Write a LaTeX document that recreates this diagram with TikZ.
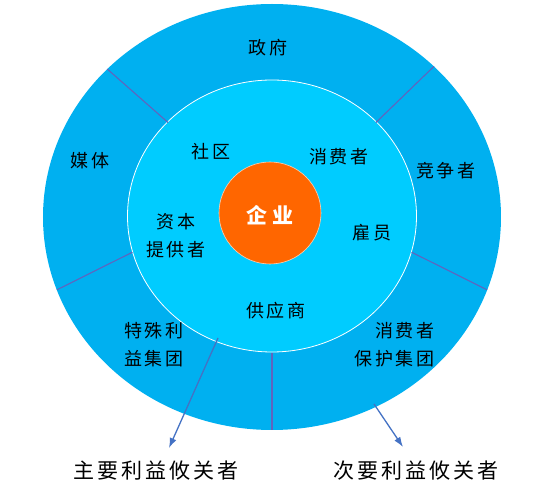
\documentclass[tikz,border=0pt]{standalone}
\usepackage{fontspec}
\setmainfont{Noto Sans CJK SC}
\usetikzlibrary{calc,arrows.meta}

\definecolor{ringblue}{RGB}{0,176,240}
\definecolor{coreblue}{RGB}{0,204,255}
\definecolor{firmorange}{RGB}{255,102,0}
\definecolor{splitline}{RGB}{96,100,190}
\definecolor{arrowblue}{RGB}{68,114,196}

\begin{document}
\begin{tikzpicture}[
 x=1pt, y=1pt,
 >={Latex[length=10pt,width=7pt]},
 align=center,
 inner sep=0pt,
 stakeholder/.style={font=\fontsize{18}{28}\selectfont\addfontfeature{LetterSpace=16}},
 tier/.style={font=\fontsize{21}{26}\selectfont\addfontfeature{LetterSpace=14}},
 firm/.style={text=white,font=\fontsize{21}{26}\selectfont\bfseries\addfontfeature{LetterSpace=25}},
 split/.style={draw=splitline,line width=1.1pt},
 pointer/.style={draw=arrowblue,fill=arrowblue,line width=1.3pt,->}
]
\useasboundingbox (-272,-283) rectangle (278,217);
% rings
\fill[ringblue] (0,0) ellipse [x radius=229, y radius=213];
\draw[white,fill=coreblue,line width=0.8pt] (0,1) ellipse [x radius=144.5, y radius=136];
\draw[white!70!firmorange,fill=firmorange,line width=0.6pt] (-2,4) circle [radius=51];
% dividers of the outer ring
\draw[split] (136:229 and 213) -- (136:144.5 and 136);
\draw[split] (45:229 and 213) -- (44:144.5 and 136);
\draw[split] (200:229 and 213) -- (195:144.5 and 136);
\draw[split] (-20:229 and 213) -- (-15:144.5 and 136);
\draw[split] (270:229 and 213) -- (270:144.5 and 136);
% outer ring
\node (government) [stakeholder] at (-4,169) {政府};
\node (media) [stakeholder] at (-182,56) {媒体};
\node (competitors) [stakeholder] at (174,46) {竞争者};
\node (interest-groups) [stakeholder] at (-118,-128) {特殊利\\益集团};
\node (consumer-groups) [stakeholder,anchor=east,align=right] at (163,-128) {消费者\\保护集团};
% inner ring
\node (community) [stakeholder] at (-61,65) {社区};
\node (consumers) [stakeholder] at (67,60) {消费者};
\node (investors) [stakeholder] at (-96,-19) {资本\\提供者};
\node (employees) [stakeholder] at (100,-16) {雇员};
\node (suppliers) [stakeholder] at (4,-94) {供应商};
\node (company) [firm] at (-2,2) {企业};
% tiers
\node (primary) [tier] at (-116,-254) {主要利益攸关者};
\node (secondary) [tier] at (144,-254) {次要利益攸关者};
\coordinate (primary-from) at (-54,-121);
\coordinate (primary-to) at (-103,-231);
\coordinate (secondary-from) at (102,-187);
\coordinate (secondary-to) at (131,-230);
\draw[pointer] (primary-from) -- (primary-to);
\draw[pointer] (secondary-from) -- (secondary-to);
\end{tikzpicture}
\end{document}
